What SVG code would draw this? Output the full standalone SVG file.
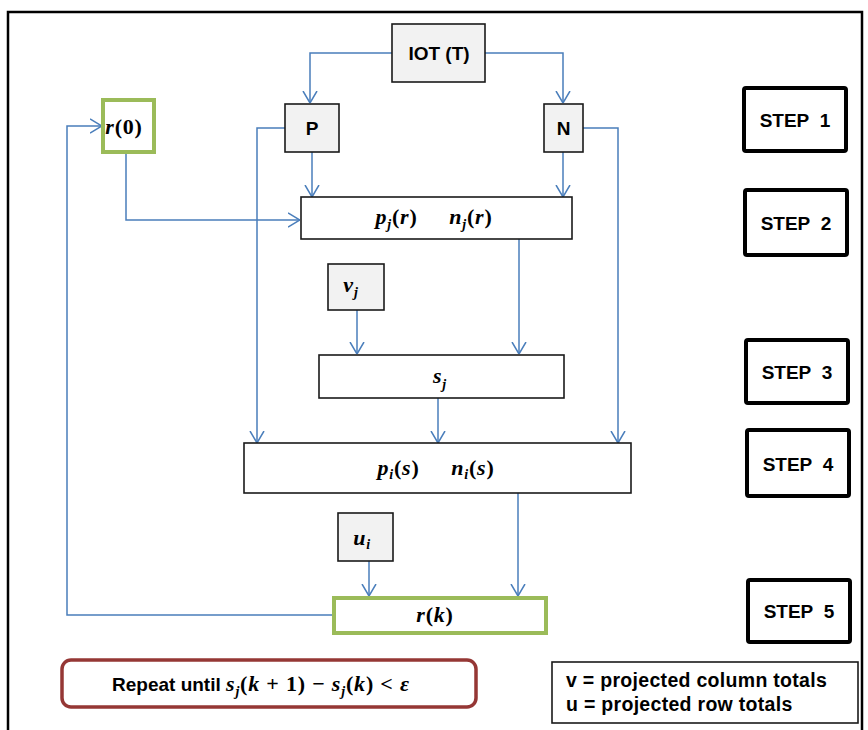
<svg xmlns="http://www.w3.org/2000/svg" width="868" height="730" viewBox="0 0 868 730">
<defs>
<style>
.frame{fill:none;stroke:#000;stroke-width:2.5}
.gray{fill:#f2f2f2;stroke:#1a1a1a;stroke-width:1.6}
.plain{fill:#fff;stroke:#1a1a1a;stroke-width:1.6}
.green{fill:#fff;stroke:#9bbb59;stroke-width:4}
.step{fill:#fff;stroke:#000;stroke-width:4}
.rep{fill:#fff;stroke:#953735;stroke-width:3.5}
.lbl{font-family:"Liberation Sans",Arial,sans-serif;font-weight:bold;font-size:19px;fill:#000}
.leg{font-family:"Liberation Sans",Arial,sans-serif;font-weight:bold;font-size:19.5px;letter-spacing:0.3px;fill:#000}
.math{font-family:"Liberation Serif","DejaVu Serif",serif;font-weight:bold;font-style:italic;font-size:22px;letter-spacing:0.8px;fill:#000}
.up{font-style:normal}
.sub{font-size:14px}
.conn path{fill:none;stroke:#4a7ebb;stroke-width:1.5}
</style>
<marker id="arr" viewBox="0 0 12 16" refX="12" refY="8" markerWidth="12" markerHeight="16" markerUnits="userSpaceOnUse" orient="auto">
<path d="M0,1 L12,8 L0,15" fill="none" stroke="#4a7ebb" stroke-width="1.5"/>
</marker>
</defs>
<rect width="868" height="730" fill="#fff"/>
<path class="frame" d="M8,740 V12 H862 V740"/>

<g class="conn">
<path d="M392,53 H310 V103" marker-end="url(#arr)"/>
<path d="M485,53 H563 V103" marker-end="url(#arr)"/>
<path d="M312,152 V197" marker-end="url(#arr)"/>
<path d="M563,152 V197" marker-end="url(#arr)"/>
<path d="M126,153 V220 H300" marker-end="url(#arr)"/>
<path d="M285,128 H257 V443" marker-end="url(#arr)"/>
<path d="M583,128 H618 V443" marker-end="url(#arr)"/>
<path d="M519,239 V354" marker-end="url(#arr)"/>
<path d="M357,310 V354" marker-end="url(#arr)"/>
<path d="M438,398 V443" marker-end="url(#arr)"/>
<path d="M518,493 V596" marker-end="url(#arr)"/>
<path d="M369,561 V596" marker-end="url(#arr)"/>
<path d="M333,615 H67 V126 H102" marker-end="url(#arr)"/>
</g>

<g id="iot">
<rect class="gray" x="392" y="24" width="93" height="58"/>
<text class="lbl" x="439" y="60" text-anchor="middle">IOT (T)</text>
</g>
<g id="p">
<rect class="gray" x="285" y="104" width="54" height="48"/>
<text class="lbl" x="312" y="135" text-anchor="middle">P</text>
</g>
<g id="n">
<rect class="gray" x="544" y="104" width="39" height="48"/>
<text class="lbl" x="563.5" y="135" text-anchor="middle">N</text>
</g>
<g id="r0">
<rect class="green" x="103" y="100" width="51" height="52"/>
<text class="math" x="124" y="134" text-anchor="middle">r<tspan class="up">(0)</tspan></text>
</g>
<g id="pjr">
<rect class="plain" x="301" y="197" width="271" height="42"/>
<text class="math" x="434" y="224" text-anchor="middle">p<tspan class="sub" dy="5">j</tspan><tspan class="up" dy="-5">(</tspan>r<tspan class="up">)&#160;&#160;&#160;&#160;&#160;</tspan>n<tspan class="sub" dy="5">j</tspan><tspan class="up" dy="-5">(</tspan>r<tspan class="up">)</tspan></text>
</g>
<g id="vj">
<rect class="gray" x="328" y="264" width="56" height="46"/>
<text class="math" x="351" y="292" text-anchor="middle">v<tspan class="sub" dy="5">j</tspan></text>
</g>
<g id="sj">
<rect class="plain" x="319" y="355" width="245" height="43"/>
<text class="math" x="440" y="383" text-anchor="middle">s<tspan class="sub" dy="6">j</tspan></text>
</g>
<g id="pis">
<rect class="plain" x="244" y="443" width="387" height="50"/>
<text class="math" x="436" y="475" text-anchor="middle">p<tspan class="sub" dy="4">i</tspan><tspan class="up" dy="-4">(</tspan>s<tspan class="up">)&#160;&#160;&#160;&#160;&#160;</tspan>n<tspan class="sub" dy="4">i</tspan><tspan class="up" dy="-4">(</tspan>s<tspan class="up">)</tspan></text>
</g>
<g id="ui">
<rect class="gray" x="338" y="513" width="55" height="48"/>
<text class="math" x="362" y="545" text-anchor="middle">u<tspan class="sub" dy="4">i</tspan></text>
</g>
<g id="rk">
<rect class="green" x="334" y="598" width="212" height="35"/>
<text class="math" x="435" y="622" text-anchor="middle">r<tspan class="up">(</tspan>k<tspan class="up">)</tspan></text>
</g>

<g id="step1">
<rect class="step" x="744" y="88" width="102" height="63" rx="2"/>
<text class="lbl" x="795" y="127" text-anchor="middle">STEP&#160;&#160;1</text>
</g>
<g id="step2">
<rect class="step" x="745" y="190" width="102" height="65" rx="2"/>
<text class="lbl" x="796" y="230" text-anchor="middle">STEP&#160;&#160;2</text>
</g>
<g id="step3">
<rect class="step" x="746" y="340" width="102" height="63" rx="2"/>
<text class="lbl" x="797" y="379" text-anchor="middle">STEP&#160;&#160;3</text>
</g>
<g id="step4">
<rect class="step" x="747" y="430" width="102" height="66" rx="2"/>
<text class="lbl" x="798" y="471" text-anchor="middle">STEP&#160;&#160;4</text>
</g>
<g id="step5">
<rect class="step" x="748" y="580" width="102" height="62" rx="2"/>
<text class="lbl" x="799" y="618" text-anchor="middle">STEP&#160;&#160;5</text>
</g>

<g id="repeat">
<rect class="rep" x="62" y="660" width="414" height="47" rx="9"/>
<text x="112" y="691"><tspan class="lbl">Repeat until </tspan><tspan class="math">s<tspan class="sub" dy="5">j</tspan><tspan class="up" dy="-5">(</tspan>k<tspan class="up">&#160;+&#160;1)&#160;−&#160;</tspan>s<tspan class="sub" dy="5">j</tspan><tspan class="up" dy="-5">(</tspan>k<tspan class="up">)&#160;&lt;&#160;</tspan>ε</tspan></text>
</g>

<g id="legend">
<rect class="plain" x="552" y="662" width="306" height="61"/>
<text class="leg" x="566" y="687">v = projected column totals</text>
<text class="leg" x="566" y="711">u = projected row totals</text>
</g>
</svg>
